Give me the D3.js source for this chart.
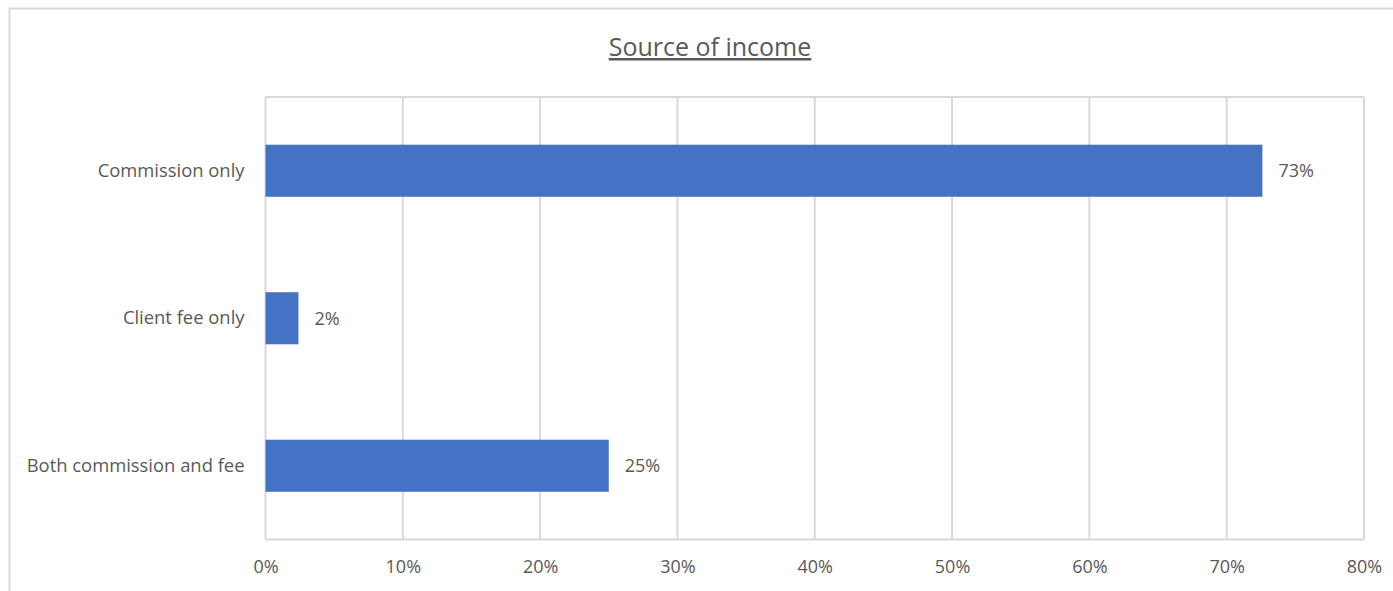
<!DOCTYPE html>
<html>
<head>
<meta charset="utf-8">
<script src="https://cdn.jsdelivr.net/npm/d3@7"></script>
<style>
  body { margin: 0; background: #fff; }
  text { font-family: "Open Sans", sans-serif; fill: #595959; }
</style>
</head>
<body>
<div id="chart-area"></div>
<script>
var categories = ['Commission only', 'Client fee only', 'Both commission and fee']
var shares = [0.726, 0.024, 0.250]
var ticks = [0, 0.1, 0.2, 0.3, 0.4, 0.5, 0.6, 0.7, 0.8]

var data = categories.map((c, i) => ({ name: c, value: shares[i] }))

var W = 1393, H = 591
var margin = { top: 97, left: 265.5, bottom: 52, right: 29 }
var width = 1364 - margin.left
var height = 539.5 - margin.top

var svg = d3.select('#chart-area').append('svg')
    .attr('width', W)
    .attr('height', H)

// outer chart frame (runs off the right and bottom edges)
svg.append('rect')
    .attr('x', 9.5).attr('y', 8.5)
    .attr('width', W).attr('height', H)
    .attr('fill', 'none')
    .attr('stroke', '#d9d9d9')
    .attr('stroke-width', 2)

svg.append('text')
    .attr('x', 710)
    .attr('y', 56)
    .attr('text-anchor', 'middle')
    .attr('font-size', '25px')
    .attr('text-decoration', 'underline')
    .text('Source of income')

var g = svg.append('g').attr('transform', `translate(${margin.left}, ${margin.top})`)

var x = d3.scaleLinear().domain([0, 0.8]).range([0, width])
var y = d3.scaleBand().domain(categories).range([0, height]).paddingInner(0.647).paddingOuter(0.3235)

// gridlines
g.selectAll('.grid').data(ticks)
    .enter().append('line')
    .attr('class', 'grid')
    .attr('x1', d => x(d)).attr('x2', d => x(d))
    .attr('y1', 0).attr('y2', height)
    .attr('stroke', '#d9d9d9')
    .attr('stroke-width', 2)

g.append('line')
    .attr('x1', 0).attr('x2', width)
    .attr('y1', 0).attr('y2', 0)
    .attr('stroke', '#d9d9d9')
    .attr('stroke-width', 2)
g.append('line')
    .attr('x1', 0).attr('x2', width)
    .attr('y1', height).attr('y2', height)
    .attr('stroke', '#d9d9d9')
    .attr('stroke-width', 2)

var xAxis = d3.axisBottom(x).tickValues(ticks).tickFormat(d3.format('.0%')).tickSize(0).tickPadding(21)
var xAxisGroup = g.append('g').attr('transform', `translate(0, ${height})`).call(xAxis)
xAxisGroup.select('.domain').remove()
xAxisGroup.selectAll('text').attr('font-size', '18px').attr('font-family', null).attr('fill', '#595959')

var yAxis = d3.axisLeft(y).tickSize(0).tickPadding(21)
var yAxisGroup = g.append('g').call(yAxis)
yAxisGroup.select('.domain').remove()
yAxisGroup.selectAll('text').attr('font-size', '18.4px').attr('font-family', null).attr('fill', '#595959')

g.selectAll('.bar').data(data)
    .enter().append('rect')
    .attr('class', 'bar')
    .attr('x', x(0))
    .attr('y', d => y(d.name))
    .attr('width', d => x(d.value) - x(0))
    .attr('height', y.bandwidth())
    .attr('fill', '#4472c4')

g.selectAll('.label').data(data)
    .enter().append('text')
    .attr('class', 'label')
    .attr('x', d => x(d.value) + 16)
    .attr('y', d => y(d.name) + y.bandwidth() / 2)
    .attr('dy', '0.35em')
    .attr('font-size', '18px')
    .text(d => Math.round(d.value * 100) + '%')
</script>
</body>
</html>
